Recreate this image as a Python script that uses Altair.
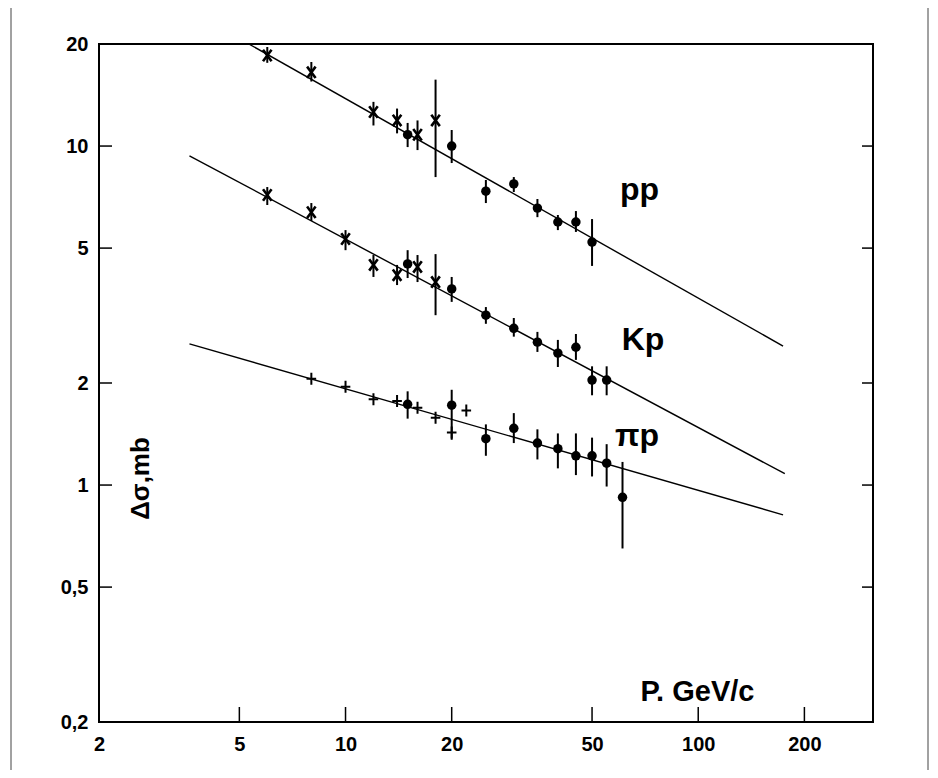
import altair as alt
import pandas as pd

# ---------------- data ----------------
# pp : crosses (older data) and dots
pp_cross_p  = [6, 8, 12, 14, 16, 18]
pp_cross_y  = [18.5, 16.5, 12.6, 11.9, 10.8, 11.9]
pp_cross_lo = [17.6, 15.5, 11.5, 10.9, 9.73, 8.1]
pp_cross_hi = [19.6, 17.7, 13.5, 12.9, 11.9, 15.7]
pp_dot_p  = [15, 20, 25, 30, 35, 40, 45, 50]
pp_dot_y  = [10.8, 10.0, 7.36, 7.73, 6.56, 5.97, 5.97, 5.21]
pp_dot_lo = [9.93, 8.91, 6.79, 7.32, 6.17, 5.65, 5.58, 4.43]
pp_dot_hi = [11.7, 11.15, 7.94, 8.1, 6.98, 6.26, 6.43, 6.09]

# Kp
kp_cross_p  = [6, 8, 10, 12, 14, 16, 18]
kp_cross_y  = [7.17, 6.38, 5.32, 4.46, 4.16, 4.40, 3.97]
kp_cross_lo = [6.70, 6.01, 4.93, 4.11, 3.89, 3.97, 3.17]
kp_cross_hi = [7.57, 6.79, 5.65, 4.77, 4.46, 4.77, 4.80]
kp_dot_p  = [15, 20, 25, 30, 35, 40, 45, 50, 55]
kp_dot_y  = [4.49, 3.79, 3.17, 2.90, 2.64, 2.45, 2.55, 2.04, 2.04]
kp_dot_lo = [4.08, 3.47, 2.99, 2.74, 2.47, 2.23, 2.34, 1.84, 1.84]
kp_dot_hi = [4.93, 4.11, 3.35, 3.11, 2.83, 2.68, 2.79, 2.24, 2.24]

# pi p : plus signs (older data) and dots
pip_plus_p = [8, 10, 12, 14, 16, 18, 20, 22]
pip_plus_y = [2.06, 1.95, 1.79, 1.77, 1.69, 1.58, 1.43, 1.66]
pip_dot_p  = [15, 20, 25, 30, 35, 40, 45, 50, 55, 61]
pip_dot_y  = [1.73, 1.72, 1.37, 1.47, 1.33, 1.28, 1.22, 1.22, 1.16, 0.92]
pip_dot_lo = [1.57, 1.36, 1.22, 1.33, 1.19, 1.12, 1.07, 1.06, 0.99, 0.65]
pip_dot_hi = [1.89, 1.91, 1.51, 1.63, 1.46, 1.42, 1.42, 1.38, 1.32, 1.17]

# fitted straight lines (end points)
fit_series = ["pp", "pp", "Kp", "Kp", "πp", "πp"]
fit_p = [5.32, 174, 3.61, 176, 3.61, 174]
fit_y = [20.0, 2.57, 9.36, 1.08, 2.61, 0.817]

# curve labels
lab_text = ["pp", "Kp", "πp"]
lab_p = [60.0, 60.7, 58.1]
lab_y = [6.93, 2.50, 1.30]

# axis ticks
x_ticks = [2, 5, 10, 20, 50, 100, 200]
y_ticks = [0.2, 0.5, 1, 2, 5, 10, 20]
x_inner_ticks = [5, 10, 20, 50, 100, 200]
y_inner_ticks = [0.5, 1, 2, 5, 10]

# ---------------- build tables ----------------
crosses = pd.DataFrame({
    "p": pp_cross_p + kp_cross_p,
    "y": pp_cross_y + kp_cross_y,
    "lo": pp_cross_lo + kp_cross_lo,
    "hi": pp_cross_hi + kp_cross_hi,
})
dots = pd.DataFrame({
    "p": pp_dot_p + kp_dot_p + pip_dot_p,
    "y": pp_dot_y + kp_dot_y + pip_dot_y,
    "lo": pp_dot_lo + kp_dot_lo + pip_dot_lo,
    "hi": pp_dot_hi + kp_dot_hi + pip_dot_hi,
})
pluses = pd.DataFrame({"p": pip_plus_p, "y": pip_plus_y})
fits = pd.DataFrame({"series": fit_series, "p": fit_p, "y": fit_y})
labels = pd.DataFrame({"t": lab_text, "p": lab_p, "y": lab_y})
bars = pd.concat([crosses, dots], ignore_index=True)

W, H = 774, 678
FONT = "Liberation Sans"

xscale = alt.Scale(type="log", domain=[2, 313], nice=False)
yscale = alt.Scale(type="log", domain=[0.2, 20], nice=False)

xaxis = alt.Axis(values=x_ticks, title="P. GeV/c", titleX=541, titleY=-22,
                 titleAlign="left", titleBaseline="alphabetic", titleFontSize=29,
                 labelPadding=12, labelFlush=False, labelOverlap=False,
                 labelBaseline="top", format="d")
yaxis = alt.Axis(values=y_ticks, title="Δσ,mb", titleX=41, titleY=434,
                 titleAngle=270, titleAlign="center", titleBaseline="middle",
                 titleFontSize=26,
                 labelPadding=11, labelFlush=False, labelOverlap=False,
                 labelExpr="replace(toString(datum.value), '.', ',')")


def X(field):
    return alt.X(f"{field}:Q", scale=xscale, axis=xaxis)


def Y(field):
    return alt.Y(f"{field}:Q", scale=yscale, axis=yaxis)


x_path = "M-0.75,-1L0.75,1M-0.75,1L0.75,-1"
plus_path = "M-0.8,0L0.8,0M0,-1L0,1"

lines = alt.Chart(fits).mark_line(color="black", strokeWidth=1.4).encode(
    x=X("p"), y=Y("y"), detail="series:N")

errs = alt.Chart(bars).mark_rule(color="black", strokeWidth=2).encode(
    x=X("p"), y=Y("lo"), y2="hi:Q")

cross_pts = alt.Chart(crosses).mark_point(
    shape=x_path, filled=False, color="black", strokeWidth=2.6, size=130, opacity=1
).encode(x=X("p"), y=Y("y"))

dot_pts = alt.Chart(dots).mark_point(
    shape="circle", filled=True, color="black", size=90, opacity=1
).encode(x=X("p"), y=Y("y"))

plus_pts = alt.Chart(pluses).mark_point(
    shape=plus_path, filled=False, color="black", strokeWidth=2, size=144, opacity=1
).encode(x=X("p"), y=Y("y"))

text = alt.Chart(labels).mark_text(
    font=FONT, fontSize=32, fontWeight="bold", align="left",
    baseline="alphabetic", color="black"
).encode(x=X("p"), y=Y("y"), text="t:N")

yt = pd.DataFrame({"v": y_inner_ticks})
xt = pd.DataFrame({"v": x_inner_ticks})
left_ticks = alt.Chart(yt).mark_rule(color="black", strokeWidth=1.5).encode(
    y=Y("v"), x=alt.value(0), x2=alt.value(13))
right_ticks = alt.Chart(yt).mark_rule(color="black", strokeWidth=1.5).encode(
    y=Y("v"), x=alt.value(W - 11), x2=alt.value(W))
bottom_ticks = alt.Chart(xt).mark_rule(color="black", strokeWidth=1.5).encode(
    x=X("v"), y=alt.value(H - 15), y2=alt.value(H))

border = pd.DataFrame({"v": [1]})
left_border = alt.Chart(border).mark_rule(color="#444", strokeWidth=1).encode(
    x=alt.value(-88), y=alt.value(-44), y2=alt.value(H + 60))
right_border = alt.Chart(border).mark_rule(color="#444", strokeWidth=1).encode(
    x=alt.value(829), y=alt.value(-44), y2=alt.value(H + 60))

chart = alt.layer(
    lines, errs, cross_pts, dot_pts, plus_pts, text,
    left_ticks, right_ticks, bottom_ticks, left_border, right_border
).properties(
    width=W, height=H,
    padding={"left": 91, "top": 36, "right": 57, "bottom": 48},
    autosize=alt.AutoSizeParams(type="none"),
    background="white",
).configure_view(
    stroke="black", strokeWidth=2
).configure_axis(
    grid=False, domain=False, ticks=False,
    labelFont=FONT, labelFontWeight="bold", labelFontSize=20, labelColor="black",
    titleFont=FONT, titleFontWeight="bold", titleColor="black",
)

chart.save("out.html", embed_options={"renderer": "svg", "actions": False})
